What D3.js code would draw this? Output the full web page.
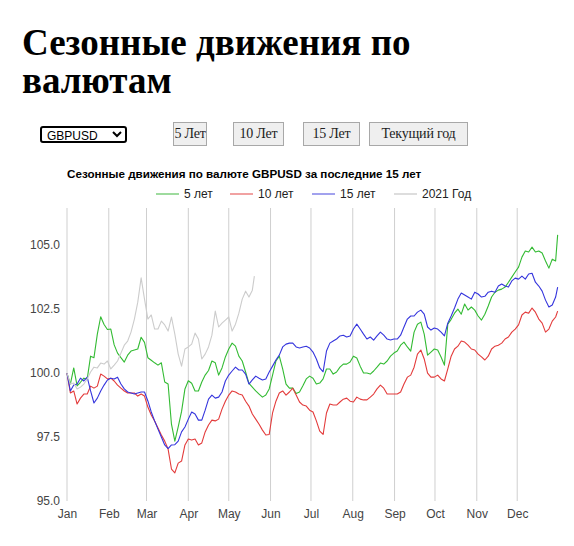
<!DOCTYPE html>
<html>
<head>
<meta charset="utf-8">
<title>Сезонные движения по валютам</title>
<style>
body { margin: 0; width: 574px; height: 546px; position: relative; background: #fff; overflow: hidden; }
h1 {
  position: absolute; left: 22px; top: 24px; margin: 0; width: 425px;
  font-family: "Liberation Serif", "Times New Roman", serif;
  font-size: 37px; line-height: 38px; font-weight: bold; color: #000;
}
select {
  position: absolute; left: 40px; top: 126px; width: 87px; height: 17px;
  font-family: Arial, "Liberation Sans", sans-serif; font-size: 12px;
  border: 2px solid #000; border-radius: 3px; padding: 0 0 0 1px; background: #fff; color: #000;
}
button.per {
  position: absolute; top: 122px; height: 24px; padding: 0; white-space: nowrap; overflow: visible;
  font-family: "Liberation Serif", "Times New Roman", serif; font-size: 14px; letter-spacing: -0.2px;
  background: #efefef; border: 1px solid #a8a8a8; border-radius: 0; color: #222;
}
svg { position: absolute; left: 0; top: 0; }
</style>
</head>
<body>
<h1>Сезонные движения по валютам</h1>
<select id="pair"><option>GBPUSD</option><option>EURUSD</option><option>USDJPY</option></select>
<button class="per" style="left:173px;width:34px">5 Лет</button>
<button class="per" style="left:233px;width:51px">10 Лет</button>
<button class="per" style="left:303px;width:57px">15 Лет</button>
<button class="per" style="left:369px;width:99px">Текущий год</button>
<svg width="574" height="546"></svg>
<script src="https://cdn.jsdelivr.net/npm/d3@7"></script>
<script>
// days since Jan 1 for the averaged series
var days = [0,2.5,5,7.5,10,12.5,15,17.5,20,22.5,25,27.5,30,32.5,35,37.5,40,42.5,45,47.5,50,52.5,55,57.5,60,62.5,65,67.5,70,72.5,75,77.5,80,82.5,85,87.5,90,92.5,95,97.5,
  100,102.5,105,107.5,110,112.5,115,117.5,120,122.5,125,127.5,130,132.5,135,137.5,140,142.5,145,147.5,150,152.5,155,157.5,160,162.5,165,167.5,170,172.5,175,177.5,180,182.5,185,187.5,190,192.5,195,197.5,
  200,202.5,205,207.5,210,212.5,215,217.5,220,222.5,225,227.5,230,232.5,235,237.5,240,242.5,245,247.5,250,252.5,255,257.5,260,262.5,265,267.5,270,272.5,275,277.5,280,282.5,285,287.5,290,292.5,295,297.5,
  300,302.5,305,307.5,310,312.5,315,317.5,320,322.5,325,327.5,330,332.5,335,337.5,340,342.5,345,347.5,350,352.5,355,357.5,360,362.5,364];

var fiveYears = [100.0,99.57,100.2,99.5,99.64,99.8,99.77,100.66,100.6,101.52,102.2,101.9,101.7,101.72,101.1,100.78,100.6,100.43,100.7,100.86,100.9,100.94,101.4,101.2,100.6,100.5,100.4,100.31,100.4,99.65,99.57,98.0,97.34,97.9,98.5,99.38,99.7,99.6,99.3,99.3,
  99.65,99.92,100.1,100.47,100.4,99.92,100.2,100.63,100.94,101.17,101.05,100.66,100.47,100.04,99.6,99.45,99.3,99.18,99.06,99.14,99.38,99.92,100.47,100.66,100.16,99.57,99.41,99.41,99.2,99.26,99.5,99.77,99.88,99.8,99.57,99.61,99.77,100.16,100.16,99.96,
  100.04,100.23,100.35,100.35,100.43,100.66,100.59,100.27,100.0,100.0,99.96,100.08,100.23,100.39,100.35,100.47,100.66,100.78,100.86,101.09,101.21,101.02,100.86,101.6,101.91,101.99,101.52,100.7,100.82,100.94,100.9,100.63,100.31,101.91,102.1,102.34,102.5,102.3,102.7,102.46,
  102.58,102.46,102.23,102.07,102.3,102.62,102.97,103.16,103.24,103.28,103.36,103.55,103.75,103.95,104.14,104.53,104.77,104.73,104.92,104.73,104.77,104.69,104.38,104.1,104.45,104.38,105.4];

var tenYears = [100.0,99.22,99.3,98.79,99.02,99.18,99.18,99.49,99.41,99.49,99.96,99.88,99.77,99.8,99.69,99.53,99.41,99.3,99.22,99.22,99.22,99.1,99.18,99.1,98.67,98.36,98.13,97.85,97.58,97.34,97.03,96.25,96.1,96.48,96.56,97.19,97.42,97.38,97.42,97.19,
  97.27,97.7,97.97,98.16,98.13,98.2,98.59,98.9,99.14,99.3,99.26,99.18,99.14,98.9,98.71,98.4,98.2,98.0,97.77,97.58,97.6,98.44,98.9,99.22,99.3,99.14,99.26,99.41,99.14,98.87,98.75,98.71,98.55,98.48,98.13,97.73,97.6,98.44,98.79,98.75,
  98.75,98.87,98.98,99.02,98.9,98.87,99.06,98.98,98.95,98.95,99.06,99.18,99.38,99.53,99.41,99.18,99.18,99.18,99.18,99.26,99.57,99.84,99.92,100.23,100.74,100.9,100.55,100.0,99.84,99.84,99.92,99.77,99.69,100.16,100.66,100.94,101.05,101.25,101.21,101.09,
  100.94,100.9,100.74,100.63,100.51,100.66,100.94,101.05,101.09,101.17,101.33,101.41,101.6,101.72,101.88,102.27,102.38,102.34,102.54,102.38,102.11,101.95,101.6,101.72,102.03,102.19,102.42];

var fifteenYears = [100.0,99.3,99.53,99.57,99.8,99.69,99.84,99.3,98.83,99.02,99.3,99.53,99.73,99.8,99.77,99.84,99.57,99.38,99.26,99.22,99.18,99.22,99.26,99.26,98.91,98.48,98.13,97.81,97.5,97.19,97.05,97.19,97.2,97.34,97.7,97.89,98.2,98.48,98.4,98.16,
  98.16,98.55,98.98,99.14,99.02,99.06,99.26,99.69,99.92,100.08,100.23,100.12,100.12,99.96,99.57,99.73,99.88,99.8,99.73,99.77,100.04,100.27,100.51,100.7,101.02,101.13,101.17,101.17,101.02,100.98,101.02,101.05,100.98,100.82,100.55,100.2,100.05,100.86,101.17,101.25,
  101.33,101.45,101.48,101.41,101.45,101.72,101.91,101.72,101.52,101.33,101.41,101.29,101.45,101.6,101.48,101.33,101.29,101.33,101.33,101.48,101.8,102.11,102.23,102.23,102.38,102.46,102.3,101.8,101.68,101.76,101.72,101.6,101.45,101.95,102.23,102.54,102.89,103.13,103.05,102.97,
  102.89,103.16,103.09,102.97,103.0,103.16,103.2,103.16,103.4,103.48,103.4,103.36,103.6,103.71,103.67,103.79,103.67,103.87,103.9,103.55,103.4,103.2,102.85,102.58,102.66,102.97,103.36];

// current year (2021) runs only to late May
var curDays = [0,2.5,5,7.5,10,12.5,15,17.5,20,22.5,25,27.5,30,32.5,35,37.5,40,42.5,45,47.5,50,52.5,55,57.5,60,62.5,65,67.5,70,72.5,75,77.5,80,82.5,85,87.5,90,92.5,95,97.5,
  100,102.5,105,107.5,110,112.5,115,117.5,120,122.5,125,127.5,130,132.5,135,137.5,139];
var curYear = [100.0,99.57,99.61,99.38,99.45,99.57,99.77,100.04,100.23,100.2,100.39,100.35,100.47,100.16,100.31,100.47,100.78,101.09,101.25,101.6,102.11,102.77,103.72,102.89,102.11,102.27,101.72,101.72,102.03,101.88,101.64,102.19,101.52,100.74,100.27,100.94,101.02,101.13,101.56,101.33,
  100.55,100.74,101.02,101.48,102.42,101.8,101.95,102.07,102.19,101.64,101.91,102.34,102.89,103.2,102.97,103.24,103.79];

var seriesNames = ["5 лет", "10 лет", "15 лет", "2021 Год"];
var yTicks = [95.0, 97.5, 100.0, 102.5, 105.0];
var pairName = "GBPUSD";

var lineColors = ["#33bb33", "#e33b3b", "#3535dd", "#cccccc"];
var legendColors = ["#9edb9e", "#f1a2a2", "#a2a2ee", "#dddddd"];

var svg = d3.select("svg");

var jan1 = new Date(2021, 0, 1);
function dayDate(d) { return new Date(jan1.getTime() + d * 86400000); }

var x = d3.scaleTime()
    .domain([jan1, new Date(2022, 0, 1)])
    .range([67, 559]);

var y = d3.scaleLinear()
    .domain([95, 106.45])
    .range([501, 208]);

var months = x.ticks(d3.timeMonth.every(1)).filter(function(d){ return d.getFullYear() == 2021; });

// vertical month gridlines
svg.append("g").selectAll("line")
  .data(months)
  .enter().append("line")
    .attr("x1", function(d){ return x(d); })
    .attr("x2", function(d){ return x(d); })
    .attr("y1", y.range()[1])
    .attr("y2", y.range()[0])
    .attr("stroke", "#cfcfcf")
    .attr("stroke-width", 1);

// axes
var xAxis = svg.append("g")
    .attr("transform", "translate(0," + y(95) + ")")
    .call(d3.axisBottom(x).tickValues(months).tickFormat(d3.timeFormat("%b")).tickSize(0).tickPadding(8));
xAxis.select(".domain").remove();
xAxis.selectAll("text").attr("font-family", "Arial, 'Liberation Sans', sans-serif").attr("font-size", 12).attr("fill", "#444");

var yAxis = svg.append("g")
    .attr("transform", "translate(67,0)")
    .call(d3.axisLeft(y).tickValues(yTicks).tickFormat(d3.format(".1f")).tickSize(0).tickPadding(7));
yAxis.select(".domain").remove();
yAxis.selectAll("text").attr("font-family", "Arial, 'Liberation Sans', sans-serif").attr("font-size", 12).attr("fill", "#444");

// lines
var line = d3.line()
    .x(function(d){ return x(dayDate(d[0])); })
    .y(function(d){ return y(d[1]); });

var allSeries = [
  d3.zip(days, fiveYears),
  d3.zip(days, tenYears),
  d3.zip(days, fifteenYears),
  d3.zip(curDays, curYear)
];

svg.append("g").selectAll("path")
  .data(allSeries)
  .enter().append("path")
    .attr("d", line)
    .attr("fill", "none")
    .attr("stroke", function(d, i){ return lineColors[i]; })
    .attr("stroke-width", 1.1)
    .attr("stroke-linejoin", "round");

// chart title
svg.append("text")
    .attr("x", 67)
    .attr("y", 178)
    .attr("font-family", "Arial, 'Liberation Sans', sans-serif")
    .attr("font-size", 11.65)
    .attr("font-weight", "bold")
    .attr("fill", "#000")
    .text("Сезонные движения по валюте " + pairName + " за последние 15 лет");

// legend
var legendX = [156, 230, 312, 394];
var leg = svg.append("g").selectAll("g")
  .data(seriesNames)
  .enter().append("g")
    .attr("transform", function(d, i){ return "translate(" + legendX[i] + ",194)"; });
leg.append("line")
    .attr("x1", 0).attr("x2", 23)
    .attr("stroke", function(d, i){ return legendColors[i]; })
    .attr("stroke-width", 2);
leg.append("text")
    .attr("x", 28)
    .attr("dy", "0.35em")
    .attr("font-family", "Arial, 'Liberation Sans', sans-serif")
    .attr("font-size", 12)
    .attr("fill", "#222")
    .text(function(d){ return d; });
</script>
</body>
</html>
